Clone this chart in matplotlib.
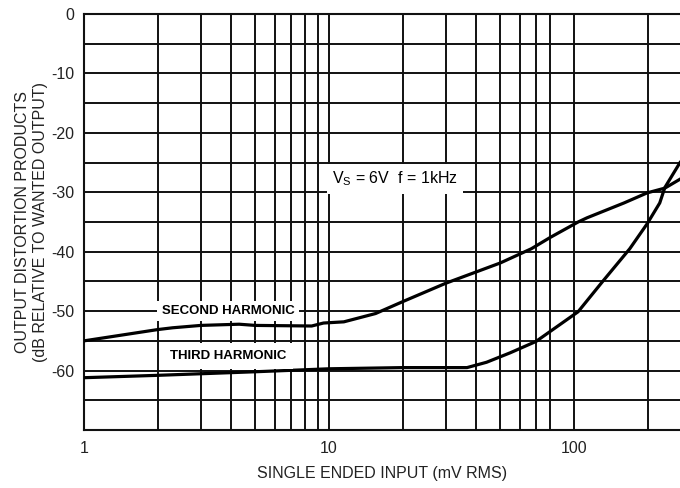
import matplotlib
matplotlib.use("Agg")
import matplotlib.pyplot as plt
from matplotlib.ticker import FixedLocator, NullFormatter

plt.rcParams['font.family'] = ['Liberation Sans', 'DejaVu Sans']
plt.rcParams['mathtext.fontset'] = 'custom'
plt.rcParams['mathtext.rm'] = 'Liberation Sans'
plt.rcParams['mathtext.default'] = 'regular'

# input level (mV RMS) and distortion products (dB)
second_x = [1, 2, 2.3, 3, 4.3, 5, 8.5, 9.5, 11.5, 15.5, 20, 30, 50, 67, 80, 104, 113, 160, 199, 235, 271]
second_y = [-55, -53.1, -52.8, -52.4, -52.2, -52.4, -52.5, -52.0, -51.8, -50.4, -48.4, -45.3, -41.9,
            -39.5, -37.6, -35, -34.3, -31.8, -30.1, -29.3, -27.8]
third_x = [1, 2, 5, 10, 20, 36.6, 44, 55, 70, 104, 131, 169, 199, 224, 235, 271]
third_y = [-61.2, -60.8, -60.2, -59.7, -59.5, -59.5, -58.6, -57.0, -55.1, -50.1, -45, -39.5,
           -35.3, -31.8, -29.2, -25.0]

x_ticks = [1, 10, 100]
x_minor = [2, 3, 4, 5, 6, 7, 8, 9, 20, 30, 40, 50, 60, 70, 80, 200]
y_ticks = [0, -10, -20, -30, -40, -50, -60]
y_grid = [-5, -15, -25, -35, -45, -55, -65]

fig = plt.figure(figsize=(6.8, 4.88), dpi=100)
ax = fig.add_axes([84 / 680, 58 / 488, 596 / 680, 416 / 488])

ax.set_xscale('log')
ax.set_xlim(1, 271)
ax.set_ylim(-70, 0)
ax.set_xticks(x_ticks)
ax.set_xticklabels([str(v) for v in x_ticks])
ax.xaxis.set_minor_locator(FixedLocator(x_minor))
ax.xaxis.set_minor_formatter(NullFormatter())
ax.set_yticks(y_ticks)
ax.set_yticklabels([str(v) for v in y_ticks])
ax.yaxis.set_minor_locator(FixedLocator(y_grid))
ax.tick_params(which='both', length=0, labelsize=11.5, colors='#222222')
ax.tick_params(axis='x', pad=8)
ax.tick_params(axis='y', pad=7)

ax.grid(True, which='both', color='#111111', linewidth=1.4)
ax.set_axisbelow(True)
for side in ['left', 'bottom', 'top']:
    ax.spines[side].set_linewidth(1.5)
    ax.spines[side].set_color('#111111')
ax.spines['right'].set_visible(False)

ax.plot(second_x, second_y, color='black', linewidth=2.3, zorder=3)
ax.plot(third_x, third_y, color='black', linewidth=2.3, zorder=3)

ax.text(3.87, -50.0, 'SECOND HARMONIC', fontsize=9.5, fontweight='bold', ha='center', va='center',
        bbox=dict(facecolor='white', edgecolor='none', pad=3), zorder=4)
ax.text(3.87, -57.6, 'THIRD HARMONIC', fontsize=9.5, fontweight='bold', ha='center', va='center',
        bbox=dict(facecolor='white', edgecolor='none', pad=5), zorder=4)
ax.text(10.3, -27.7, r'V$_S$ = 6V  f = 1kHz', fontsize=11.5, ha='left', va='center',
        bbox=dict(facecolor='white', edgecolor='none', pad=4), zorder=4)

ax.set_xlabel('SINGLE ENDED INPUT (mV RMS)', fontsize=11.5, color='#222222', labelpad=7)
ax.set_ylabel('OUTPUT DISTORTION PRODUCTS\n(dB RELATIVE TO WANTED OUTPUT)', fontsize=11.5,
              color='#222222', labelpad=2, linespacing=1.3)

fig.savefig('out.png', dpi=100)
